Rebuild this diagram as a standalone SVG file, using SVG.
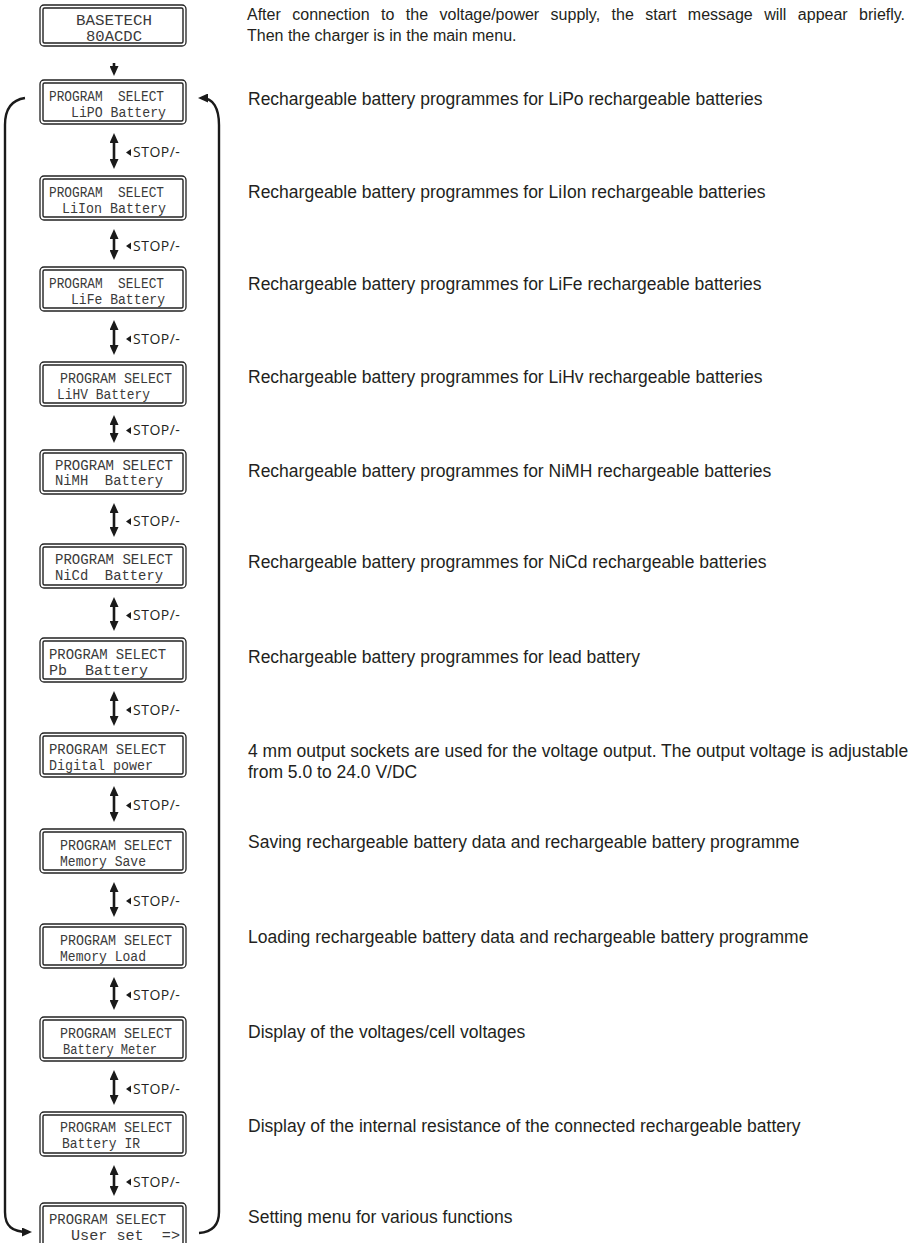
<svg xmlns="http://www.w3.org/2000/svg" width="915" height="1243" viewBox="0 0 915 1243">
<style>
.outer{fill:#fff;stroke:#222;stroke-width:1.3}
.inner{fill:none;stroke:#222;stroke-width:1.4}
.lcd{font-family:"Liberation Mono","DejaVu Sans Mono",monospace;font-size:14px;fill:#3a3a3a;white-space:pre}
.desc{font-family:"Liberation Sans",Arial,sans-serif;font-size:17.5px;fill:#231f20}
.intro{font-family:"Liberation Sans",Arial,sans-serif;font-size:16px;fill:#231f20}
.stop{font-family:"Open Sans","Liberation Sans",sans-serif;font-size:14px;letter-spacing:0.5px;fill:#231f20}
.shaft{fill:none;stroke:#1a1a1a;stroke-width:2.6}
.loop{fill:none;stroke:#1a1a1a;stroke-width:2.4}
.tri{fill:#1a1a1a}
</style>
<defs>
<marker id="ah" viewBox="0 0 10 9" markerWidth="10" markerHeight="9" refX="6" refY="4.5" markerUnits="userSpaceOnUse" orient="auto-start-reverse">
<path d="M0,0 L10,4.5 L0,9 z" fill="#1a1a1a"/>
</marker>
</defs>

<g id="n0">
<rect class="outer" x="40" y="5" width="146" height="41" rx="4"/>
<rect class="inner" x="43" y="8" width="140" height="35" rx="1.5"/>
<text class="lcd" x="76" y="25" textLength="76" lengthAdjust="spacingAndGlyphs">BASETECH</text>
<text class="lcd" x="86" y="40.5" textLength="56" lengthAdjust="spacingAndGlyphs">80ACDC</text>
</g>

<g id="n1">
<rect class="outer" x="40" y="80" width="146" height="44" rx="4"/>
<rect class="inner" x="43" y="83" width="140" height="38" rx="1.5"/>
<text class="lcd" x="49" y="100.5" textLength="115" lengthAdjust="spacingAndGlyphs">PROGRAM  SELECT</text>
<text class="lcd" x="71" y="116.5" textLength="95" lengthAdjust="spacingAndGlyphs">LiPO Battery</text>
</g>
<g id="n2">
<rect class="outer" x="40" y="176" width="146" height="44" rx="4"/>
<rect class="inner" x="43" y="179" width="140" height="38" rx="1.5"/>
<text class="lcd" x="49" y="196.5" textLength="115" lengthAdjust="spacingAndGlyphs">PROGRAM  SELECT</text>
<text class="lcd" x="62" y="212.5" textLength="104" lengthAdjust="spacingAndGlyphs">LiIon Battery</text>
</g>
<g id="n3">
<rect class="outer" x="40" y="267" width="146" height="44" rx="4"/>
<rect class="inner" x="43" y="270" width="140" height="38" rx="1.5"/>
<text class="lcd" x="49" y="287.5" textLength="115" lengthAdjust="spacingAndGlyphs">PROGRAM  SELECT</text>
<text class="lcd" x="71" y="303.5" textLength="94" lengthAdjust="spacingAndGlyphs">LiFe Battery</text>
</g>
<g id="n4">
<rect class="outer" x="40" y="362" width="146" height="44" rx="4"/>
<rect class="inner" x="43" y="365" width="140" height="38" rx="1.5"/>
<text class="lcd" x="60" y="382.5" textLength="112" lengthAdjust="spacingAndGlyphs">PROGRAM SELECT</text>
<text class="lcd" x="57" y="398.5" textLength="93" lengthAdjust="spacingAndGlyphs">LiHV Battery</text>
</g>
<g id="n5">
<rect class="outer" x="40" y="450" width="146" height="44" rx="4"/>
<rect class="inner" x="43" y="453" width="140" height="38" rx="1.5"/>
<text class="lcd" x="55" y="470" textLength="118" lengthAdjust="spacingAndGlyphs">PROGRAM SELECT</text>
<text class="lcd" x="55" y="485" textLength="108" lengthAdjust="spacingAndGlyphs">NiMH  Battery</text>
</g>
<g id="n6">
<rect class="outer" x="40" y="544" width="146" height="44" rx="4"/>
<rect class="inner" x="43" y="547" width="140" height="38" rx="1.5"/>
<text class="lcd" x="55" y="564" textLength="118" lengthAdjust="spacingAndGlyphs">PROGRAM SELECT</text>
<text class="lcd" x="55" y="579.5" textLength="108" lengthAdjust="spacingAndGlyphs">NiCd  Battery</text>
</g>
<g id="n7">
<rect class="outer" x="40" y="638" width="146" height="44" rx="4"/>
<rect class="inner" x="43" y="641" width="140" height="38" rx="1.5"/>
<text class="lcd" x="49" y="658.5" textLength="117" lengthAdjust="spacingAndGlyphs">PROGRAM SELECT</text>
<text class="lcd" x="49" y="674.5" textLength="99" lengthAdjust="spacingAndGlyphs">Pb  Battery</text>
</g>
<g id="n8">
<rect class="outer" x="40" y="733" width="146" height="44" rx="4"/>
<rect class="inner" x="43" y="736" width="140" height="38" rx="1.5"/>
<text class="lcd" x="49" y="753.5" textLength="117" lengthAdjust="spacingAndGlyphs">PROGRAM SELECT</text>
<text class="lcd" x="49" y="769.5" textLength="104" lengthAdjust="spacingAndGlyphs">Digital power</text>
</g>
<g id="n9">
<rect class="outer" x="40" y="829" width="146" height="44" rx="4"/>
<rect class="inner" x="43" y="832" width="140" height="38" rx="1.5"/>
<text class="lcd" x="60" y="849.5" textLength="112" lengthAdjust="spacingAndGlyphs">PROGRAM SELECT</text>
<text class="lcd" x="60" y="865.5" textLength="86" lengthAdjust="spacingAndGlyphs">Memory Save</text>
</g>
<g id="n10">
<rect class="outer" x="40" y="924" width="146" height="44" rx="4"/>
<rect class="inner" x="43" y="927" width="140" height="38" rx="1.5"/>
<text class="lcd" x="60" y="944.5" textLength="112" lengthAdjust="spacingAndGlyphs">PROGRAM SELECT</text>
<text class="lcd" x="60" y="960.5" textLength="86" lengthAdjust="spacingAndGlyphs">Memory Load</text>
</g>
<g id="n11">
<rect class="outer" x="40" y="1017" width="146" height="44" rx="4"/>
<rect class="inner" x="43" y="1020" width="140" height="38" rx="1.5"/>
<text class="lcd" x="60" y="1037.5" textLength="112" lengthAdjust="spacingAndGlyphs">PROGRAM SELECT</text>
<text class="lcd" x="63" y="1053.5" textLength="94" lengthAdjust="spacingAndGlyphs">Battery Meter</text>
</g>
<g id="n12">
<rect class="outer" x="40" y="1112" width="146" height="44" rx="4"/>
<rect class="inner" x="43" y="1115" width="140" height="38" rx="1.5"/>
<text class="lcd" x="60" y="1132" textLength="112" lengthAdjust="spacingAndGlyphs">PROGRAM SELECT</text>
<text class="lcd" x="62" y="1148" textLength="78" lengthAdjust="spacingAndGlyphs">Battery IR</text>
</g>
<g id="n13">
<rect class="outer" x="40" y="1203" width="146" height="44" rx="4"/>
<rect class="inner" x="43" y="1206" width="140" height="38" rx="1.5"/>
<text class="lcd" x="49" y="1223.5" textLength="117" lengthAdjust="spacingAndGlyphs">PROGRAM SELECT</text>
<text class="lcd" x="71" y="1239.5" textLength="109" lengthAdjust="spacingAndGlyphs">User set  =&gt;</text>
</g>

<g id="connectors">
<path class="shaft" d="M114,63 V72" marker-end="url(#ah)"/>
<path class="shaft" d="M114,137 V165" marker-start="url(#ah)" marker-end="url(#ah)"/>
<path class="shaft" d="M114,233 V256" marker-start="url(#ah)" marker-end="url(#ah)"/>
<path class="shaft" d="M114,324 V351" marker-start="url(#ah)" marker-end="url(#ah)"/>
<path class="shaft" d="M114,419 V439" marker-start="url(#ah)" marker-end="url(#ah)"/>
<path class="shaft" d="M114,507 V533" marker-start="url(#ah)" marker-end="url(#ah)"/>
<path class="shaft" d="M114,601 V627" marker-start="url(#ah)" marker-end="url(#ah)"/>
<path class="shaft" d="M114,695 V722" marker-start="url(#ah)" marker-end="url(#ah)"/>
<path class="shaft" d="M114,790 V818" marker-start="url(#ah)" marker-end="url(#ah)"/>
<path class="shaft" d="M114,886 V913" marker-start="url(#ah)" marker-end="url(#ah)"/>
<path class="shaft" d="M114,981 V1006" marker-start="url(#ah)" marker-end="url(#ah)"/>
<path class="shaft" d="M114,1074 V1101" marker-start="url(#ah)" marker-end="url(#ah)"/>
<path class="shaft" d="M114,1169 V1192" marker-start="url(#ah)" marker-end="url(#ah)"/>

<path class="loop" d="M25,98 C11,100 5,109 5,125 V1212 C5,1226 12,1232 28,1232" marker-end="url(#ah)"/>
<path class="loop" d="M199,1233 C212,1232 219,1226 219,1212 V125 C219,108 213,98 202,98" marker-end="url(#ah)"/>

<g id="labels">
<polygon class="tri" points="126,152.5 131,149 131,156"/><text class="stop" x="133" y="157">STOP/-</text>
<polygon class="tri" points="126,246 131,242.5 131,249.5"/><text class="stop" x="133" y="250.5">STOP/-</text>
<polygon class="tri" points="126,339 131,335.5 131,342.5"/><text class="stop" x="133" y="343.5">STOP/-</text>
<polygon class="tri" points="126,430.5 131,427 131,434"/><text class="stop" x="133" y="435">STOP/-</text>
<polygon class="tri" points="126,521.5 131,518 131,525"/><text class="stop" x="133" y="526">STOP/-</text>
<polygon class="tri" points="126,615.5 131,612 131,619"/><text class="stop" x="133" y="620">STOP/-</text>
<polygon class="tri" points="126,710 131,706.5 131,713.5"/><text class="stop" x="133" y="714.5">STOP/-</text>
<polygon class="tri" points="126,805.5 131,802 131,809"/><text class="stop" x="133" y="810">STOP/-</text>
<polygon class="tri" points="126,901 131,897.5 131,904.5"/><text class="stop" x="133" y="905.5">STOP/-</text>
<polygon class="tri" points="126,995 131,991.5 131,998.5"/><text class="stop" x="133" y="999.5">STOP/-</text>
<polygon class="tri" points="126,1089 131,1085.5 131,1092.5"/><text class="stop" x="133" y="1093.5">STOP/-</text>
<polygon class="tri" points="126,1182 131,1178.5 131,1185.5"/><text class="stop" x="133" y="1186.5">STOP/-</text>
</g>
</g>

<g id="descriptions">
<text class="intro" x="247" y="20" word-spacing="7">After connection to the voltage/power supply, the start message will appear briefly.</text>
<text class="intro" x="247" y="41">Then the charger is in the main menu.</text>
<text class="desc" x="248" y="105">Rechargeable battery programmes for LiPo rechargeable batteries</text>
<text class="desc" x="248" y="198">Rechargeable battery programmes for LiIon rechargeable batteries</text>
<text class="desc" x="248" y="290">Rechargeable battery programmes for LiFe rechargeable batteries</text>
<text class="desc" x="248" y="383">Rechargeable battery programmes for LiHv rechargeable batteries</text>
<text class="desc" x="248" y="477">Rechargeable battery programmes for NiMH rechargeable batteries</text>
<text class="desc" x="248" y="568">Rechargeable battery programmes for NiCd rechargeable batteries</text>
<text class="desc" x="248" y="663">Rechargeable battery programmes for lead battery</text>
<text class="desc" x="248" y="757">4 mm output sockets are used for the voltage output. The output voltage is adjustable</text>
<text class="desc" x="248" y="778">from 5.0 to 24.0 V/DC</text>
<text class="desc" x="248" y="848">Saving rechargeable battery data and rechargeable battery programme</text>
<text class="desc" x="248" y="943">Loading rechargeable battery data and rechargeable battery programme</text>
<text class="desc" x="248" y="1038">Display of the voltages/cell voltages</text>
<text class="desc" x="248" y="1132">Display of the internal resistance of the connected rechargeable battery</text>
<text class="desc" x="248" y="1223">Setting menu for various functions</text>
</g>
</svg>
